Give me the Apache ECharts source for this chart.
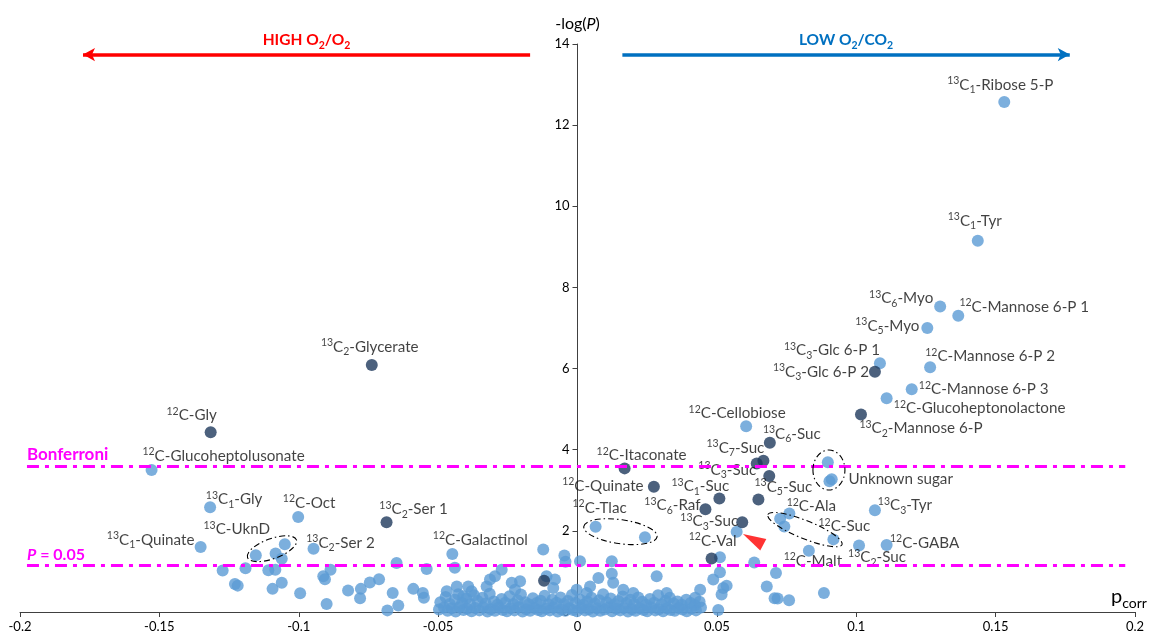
<!DOCTYPE html>
<html><head><meta charset="utf-8">
<script src="https://cdn.jsdelivr.net/npm/echarts@6/dist/echarts.min.js"></script>
<style>html,body{margin:0;padding:0;background:#fff}#c{width:1151px;height:641px}</style>
</head><body><div id="c"></div>
<script>
// ---------------- DATA ----------------
const xTickLabels = ['-0.2','-0.15','-0.1','-0.05','0','0.05','0.1','0.15','0.2'];
const yTickLabels = ['0','2','4','6','8','10','12','14'];
const bonferroni = 3.6;
const p05 = 1.14;

// labelled light-blue metabolites [pcorr, -log(P), name]
const labeledLight = [
  [0.1531,12.57,'¹³C₁-Ribose 5-P'],
  [0.1436,9.15,'¹³C₁-Tyr'],
  [0.1301,7.53,'¹³C₆-Myo'],
  [0.1366,7.30,'¹²C-Mannose 6-P 1'],
  [0.1255,7.00,'¹³C₅-Myo'],
  [0.1085,6.13,'¹³C₃-Glc 6-P 1'],
  [0.1265,6.03,'¹²C-Mannose 6-P 2'],
  [0.1199,5.49,'¹²C-Mannose 6-P 3'],
  [0.1109,5.27,'¹²C-Glucoheptonolactone'],
  [0.0605,4.58,'¹²C-Cellobiose'],
  [0.0065,2.10,'¹²C-Tlac'],
  [0.0571,1.98,'¹²C-Val'],
  [0.0912,3.27,'Unknown sugar'],
  [0.0760,2.43,'¹²C-Ala'],
  [0.0918,1.79,'¹²C-Suc'],
  [0.0830,1.51,'¹²C-Malt'],
  [0.1010,1.64,'¹³C₂-Suc'],
  [0.1109,1.65,'¹²C-GABA'],
  [0.1067,2.51,'¹³C₃-Tyr'],
  [-0.1528,3.50,'¹²C-Glucoheptolusonate'],
  [-0.1318,2.58,'¹³C₁-Gly'],
  [-0.1002,2.34,'¹²C-Oct'],
  [-0.1352,1.60,'¹³C₁-Quinate'],
  [-0.1154,1.40,'¹³C-UknD'],
  [-0.0947,1.56,'¹³C₂-Ser 2'],
  [-0.0449,1.43,'¹²C-Galactinol']
];
// labelled dark metabolites
const labeledDark = [
  [0.1067,5.92,'¹³C₃-Glc 6-P 2'],
  [0.1017,4.87,'¹³C₂-Mannose 6-P'],
  [0.0690,4.17,'¹³C₆-Suc'],
  [0.0667,3.73,'¹³C₇-Suc'],
  [0.0688,3.35,'¹³C₃-Suc'],
  [0.0169,3.54,'¹²C-Itaconate'],
  [0.0274,3.09,'¹²C-Quinate'],
  [0.0509,2.80,'¹³C₁-Suc'],
  [0.0649,2.77,'¹³C₅-Suc'],
  [0.0459,2.53,'¹³C₆-Raf'],
  [0.0591,2.21,'¹³C₃-Suc'],
  [-0.0738,6.09,'¹³C₂-Glycerate'],
  [-0.1316,4.43,'¹²C-Gly'],
  [-0.0685,2.21,'¹³C₂-Ser 1']
];
// unlabelled dark points
const darkOther = [[0.0643,3.66],[-0.0120,0.77],[0.0481,1.32]];
// unlabelled light points (scattered)
const lightOther = [
  [0.0898,3.69],[0.0904,3.22],[-0.1083,1.44],[-0.1050,1.67],[-0.1061,1.31],
  [0.0727,2.30],[0.0742,2.11],[0.0242,1.84],
  [-0.1273,1.02],[-0.1191,1.08],[-0.1109,1.03],[-0.1084,1.04],[-0.0886,1.04],[-0.0912,0.88],
  [-0.0906,0.81],[-0.1229,0.69],[-0.1219,0.65],[-0.1094,0.57],[-0.1061,0.72],[-0.0995,0.46],
  [-0.0900,0.20],[-0.0823,0.53],[-0.0777,0.57],[-0.0780,0.34],[-0.0745,0.73],[-0.0712,0.81],
  [-0.0682,0.04],[-0.0663,0.47],[-0.0649,1.21],[-0.0643,0.16],
  [-0.0589,0.57],[-0.0555,0.47],[-0.0551,0.35],[-0.0541,1.06],[-0.0469,0.51],[-0.0440,1.09],
  [-0.0433,0.63],[-0.0392,0.63],[-0.0380,0.51],[-0.0410,0.39],[-0.0326,0.63],[-0.0314,0.80],
  [-0.0296,0.88],[-0.0272,1.04],[-0.0236,0.72],[-0.0206,0.76],[-0.0224,0.55],[-0.0123,1.54],
  [-0.0111,0.88],[-0.0081,0.80],[-0.0087,0.59],[-0.0047,1.39],[-0.0043,1.24],
  [0.0009,1.25],[-0.0003,0.55],[0.0033,0.47],[0.0045,0.63],[0.0075,0.84],[0.0123,1.25],
  [0.0128,0.72],[0.0123,0.94],[0.0164,0.55],[0.0200,0.47],[0.0284,0.88],[0.0320,0.47],
  [0.0440,0.55],[0.0422,0.35],[0.0487,0.80],[0.0511,0.98],[0.0511,1.35],[0.0523,0.59],
  [0.0535,0.65],[0.0517,0.43],[0.0505,0.05],[0.0634,1.22],[0.0679,0.63],[0.0712,0.96],
  [0.0707,0.34],[0.0718,0.33],[0.0759,0.29],[0.0884,0.47]
];
// dense band of non-significant metabolites near -log(P)=0
const bandLow = [
  [-0.0497,0.06],[-0.0479,0.11],[-0.0466,0.03],[-0.0451,0.09],[-0.0437,0.01],[-0.0424,0.12],
  [-0.0409,0.05],[-0.0396,0.08],[-0.0380,0.02],[-0.0367,0.10],[-0.0352,0.04],[-0.0338,0.12],
  [-0.0323,0.01],[-0.0311,0.07],[-0.0296,0.03],[-0.0282,0.11],[-0.0268,0.05],[-0.0253,0.02],
  [-0.0240,0.09],[-0.0226,0.04],[-0.0211,0.12],[-0.0197,0.01],[-0.0184,0.07],[-0.0170,0.03],
  [-0.0155,0.10],[-0.0141,0.05],[-0.0128,0.02],[-0.0113,0.08],[-0.0099,0.04],[-0.0086,0.11],
  [-0.0071,0.01],[-0.0057,0.06],[-0.0044,0.03],[-0.0029,0.09],[-0.0016,0.05],[-0.0002,0.02],
  [0.0013,0.10],[0.0027,0.04],[0.0040,0.07],[0.0055,0.01],[0.0069,0.09],[0.0082,0.03],
  [0.0097,0.06],[0.0111,0.11],[0.0124,0.02],[0.0139,0.08],[0.0153,0.04],[0.0166,0.10],
  [0.0181,0.01],[0.0195,0.07],[0.0208,0.03],[0.0223,0.09],[0.0237,0.05],[0.0250,0.02],
  [0.0265,0.11],[0.0279,0.04],[0.0292,0.07],[0.0307,0.02],[0.0321,0.09],[0.0334,0.05],
  [0.0349,0.03],[0.0363,0.10],[0.0377,0.06],[0.0392,0.02],[0.0408,0.08],[0.0425,0.04],
  [0.0443,0.11]
];
const bandHigh = [
  [-0.0492,0.24],[-0.0473,0.37],[-0.0458,0.20],[-0.0440,0.30],[-0.0428,0.44],[-0.0414,0.22],
  [-0.0399,0.33],[-0.0385,0.19],[-0.0371,0.41],[-0.0358,0.27],[-0.0341,0.35],[-0.0329,0.21],
  [-0.0315,0.45],[-0.0300,0.26],[-0.0287,0.18],[-0.0272,0.32],[-0.0259,0.23],[-0.0244,0.39],
  [-0.0230,0.20],[-0.0215,0.29],[-0.0203,0.43],[-0.0188,0.24],[-0.0175,0.19],[-0.0160,0.34],
  [-0.0146,0.22],[-0.0132,0.28],[-0.0118,0.40],[-0.0104,0.19],[-0.0090,0.30],[-0.0075,0.23],
  [-0.0061,0.36],[-0.0048,0.20],[-0.0034,0.27],[-0.0020,0.42],[-0.0007,0.22],[0.0008,0.31],
  [0.0021,0.18],[0.0035,0.26],[0.0050,0.35],[0.0063,0.21],[0.0078,0.29],[0.0092,0.44],
  [0.0105,0.24],[0.0119,0.33],[0.0134,0.19],[0.0147,0.27],[0.0162,0.38],[0.0176,0.22],
  [0.0190,0.30],[0.0204,0.20],[0.0218,0.36],[0.0232,0.25],[0.0246,0.18],[0.0260,0.32],
  [0.0275,0.23],[0.0289,0.41],[0.0302,0.19],[0.0316,0.28],[0.0331,0.35],[0.0345,0.21],
  [0.0359,0.26],[0.0374,0.18],[0.0390,0.30],[0.0406,0.22],[0.0421,0.17],[0.0438,0.25]
];
const redMarker = [[0.0630,1.79]];

// ---------------- LAYOUT / STYLE ----------------
const lightOffsets = [[-4,-17],[-3,-20],[-39,-8],[66,-9],[-40,-2],[-48,-13],[60,-11],[72,0],[93,10],
  [-9,-13],[4,-19],[-24,9],[69,0],[22,-7],[11,-13],[4,10],[18,12],[38,-2],[30,-5],
  [72,-14],[24,-8],[11,-14],[-50,-7],[-19,-26],[27,-6],[28,-14]];
const darkOffsets = [[-54,0],[60,14],[22,-9],[-28,-13],[-42,-6],[17,-13],[-51,-1],[-19,-12],[25,-13],
  [-33,-4],[-33,-1],[-2,-18],[-19,-17],[27,-13]];
const ellipses = [
  {c:[-0.1096,1.56], rx:26, ry:10, rot:20},
  {c:[0.0154,1.98], rx:37, ry:12, rot:-8},
  {c:[0.0902,3.50], rx:16, ry:20, rot:0},
  {c:[0.0816,2.03], rx:40, ry:9, rot:-22}
];
const FONT = 'Lato, "Noto Sans", sans-serif';
const LIGHT = '#5b9bd5', DARK = '#1f3a5c', MAG = '#ff00ff';
const GRID = {left:20, right:16, top:44, bottom:29};

function toRich(s){
  const sup='\u2070\u00B9\u00B2\u00B3\u2074\u2075\u2076\u2077\u2078\u2079';
  const sub='\u2080\u2081\u2082\u2083\u2084\u2085\u2086\u2087\u2088\u2089';
  let out='', cur=null, buf='';
  for (const ch of s){
    let t='n', c=ch, i=sup.indexOf(ch);
    if(i>=0){t='sup';c=String(i);} else { i=sub.indexOf(ch); if(i>=0){t='sub';c=String(i);} }
    if(t!==cur){ if(cur) out+='{'+cur+'|'+buf+'}'; cur=t; buf=''; }
    buf+=c;
  }
  if(cur) out+='{'+cur+'|'+buf+'}';
  return out;
}
const labelRich = {
  n:{fontFamily:FONT,fontSize:15.2,color:'#111',lineHeight:18},
  sup:{fontFamily:FONT,fontSize:10.5,color:'#111',height:10,verticalAlign:'top'},
  sub:{fontFamily:FONT,fontSize:10.5,color:'#111',height:8,verticalAlign:'bottom'}
};
function labeledItems(arr, offs){
  return arr.map((d,i)=>({
    value:[d[0],d[1]],
    label:{show:true,position:'inside',offset:offs[i],formatter:toRich(d[2]),rich:labelRich,
      color:'#111',textBorderWidth:0,align:'center',verticalAlign:'middle'}
  }));
}

const chart = echarts.init(document.getElementById('c'), null, {renderer:'canvas'});
const boldRich = (c,sz)=>({
  b:{fontFamily:FONT,fontSize:sz,fontWeight:'bold',color:c,lineHeight:20},
  s:{fontFamily:FONT,fontSize:10.5,fontWeight:'bold',color:c,height:8,verticalAlign:'bottom'},
  bi:{fontFamily:FONT,fontSize:sz,fontWeight:'bold',fontStyle:'italic',color:c,lineHeight:20}
});
const plotW = 1151 - GRID.left - GRID.right;
const option = {
  animation:false,
  backgroundColor:'#fff',
  grid:Object.assign({outerBoundsMode:'none',containLabel:false}, GRID),
  xAxis:{
    type:'value',min:-0.2,max:0.2,interval:0.05,
    axisLine:{onZero:false,lineStyle:{color:'#404040',width:1}},
    axisTick:{show:true,length:5,lineStyle:{color:'#404040'}},
    splitLine:{show:false},
    axisLabel:{color:'#000',fontFamily:FONT,fontSize:13,margin:8,
      formatter:(v)=>xTickLabels[Math.round((v+0.2)/0.05)]},
    name:'{p|p}{c|corr}',nameLocation:'end',nameGap:-6,
    nameTextStyle:{align:'center',verticalAlign:'bottom',padding:[0,0,4,0],
      rich:{p:{fontFamily:FONT,fontSize:20,color:'#000',lineHeight:22},
            c:{fontFamily:FONT,fontSize:14,color:'#000',height:10,verticalAlign:'bottom'}}}
  },
  yAxis:{
    type:'value',min:0,max:14,interval:2,
    offset:-plotW/2,
    axisLine:{show:true,onZero:false,lineStyle:{color:'#404040',width:1}},
    axisTick:{show:true,length:5,lineStyle:{color:'#404040'}},
    splitLine:{show:false},
    axisLabel:{color:'#000',fontFamily:FONT,fontSize:13,margin:8,
      formatter:(v)=>yTickLabels[Math.round(v/2)]},
    name:'{n|-log(}{i|P}{n|)}',nameLocation:'end',nameGap:12,
    nameTextStyle:{align:'center',rich:{n:{fontFamily:FONT,fontSize:16,color:'#000'},
                         i:{fontFamily:FONT,fontSize:16,fontStyle:'italic',color:'#000'}}}
  },
  series:[
    {type:'scatter',symbolSize:12,itemStyle:{color:LIGHT},silent:true,
     data:bandLow.concat(bandHigh, lightOther),
     markLine:{
       silent:true,symbol:['none','none'],animation:false,
       data:[
         [{coord:[-0.1975,bonferroni],lineStyle:{color:MAG,width:3,type:[12,6,4,6]},
           label:{show:true,position:'insideStartTop',distance:[0,1],formatter:'{b|Bonferroni}',rich:boldRich(MAG,17)}},
          {coord:[0.1965,bonferroni]}],
         [{coord:[-0.1975,p05],lineStyle:{color:MAG,width:3,type:[12,6,4,6]},
           label:{show:true,position:'insideStartTop',distance:[0,1],formatter:'{bi|P}{b| = 0.05}',rich:boldRich(MAG,16)}},
          {coord:[0.1965,p05]}],
         [{coord:[-0.1774,13.74],symbol:'arrow',symbolSize:[10,12],lineStyle:{color:'#ff0000',width:3.5,type:'solid'},
           label:{show:true,position:'insideMiddleTop',distance:5,formatter:'{b|HIGH O}{s|2}{b|/O}{s|2}',rich:boldRich('#ff0000',15.5)}},
          {coord:[-0.017,13.74],symbol:'none'}],
         [{coord:[0.0161,13.74],symbol:'none',lineStyle:{color:'#0070c0',width:3.5,type:'solid'},
           label:{show:true,position:'insideMiddleTop',distance:5,formatter:'{b|LOW O}{s|2}{b|/CO}{s|2}',rich:boldRich('#0070c0',15.5)}},
          {coord:[0.1766,13.74],symbol:'arrow',symbolSize:[10,12]}]
       ]
     }},
    {type:'scatter',symbolSize:12,itemStyle:{color:DARK},silent:true,data:darkOther},
    {type:'scatter',symbolSize:12,itemStyle:{color:LIGHT},silent:true,data:labeledItems(labeledLight,lightOffsets)},
    {type:'scatter',symbolSize:12,itemStyle:{color:DARK},silent:true,data:labeledItems(labeledDark,darkOffsets)},
    {type:'scatter',symbol:'triangle',symbolSize:[13,23],symbolRotate:62,itemStyle:{color:'#ff0000'},silent:true,data:redMarker}
  ]
};
chart.setOption(option);
const graphics = ellipses.map(e=>{
  const p = chart.convertToPixel({gridIndex:0}, e.c);
  return {type:'ellipse',x:p[0],y:p[1],rotation:e.rot*Math.PI/180,silent:true,z:10,
    shape:{cx:0,cy:0,rx:e.rx,ry:e.ry},
    style:{fill:'none',stroke:'#000',lineWidth:1.1,lineDash:[6,3,1.5,3]}};
});
chart.setOption({graphic:graphics});
</script></body></html>
